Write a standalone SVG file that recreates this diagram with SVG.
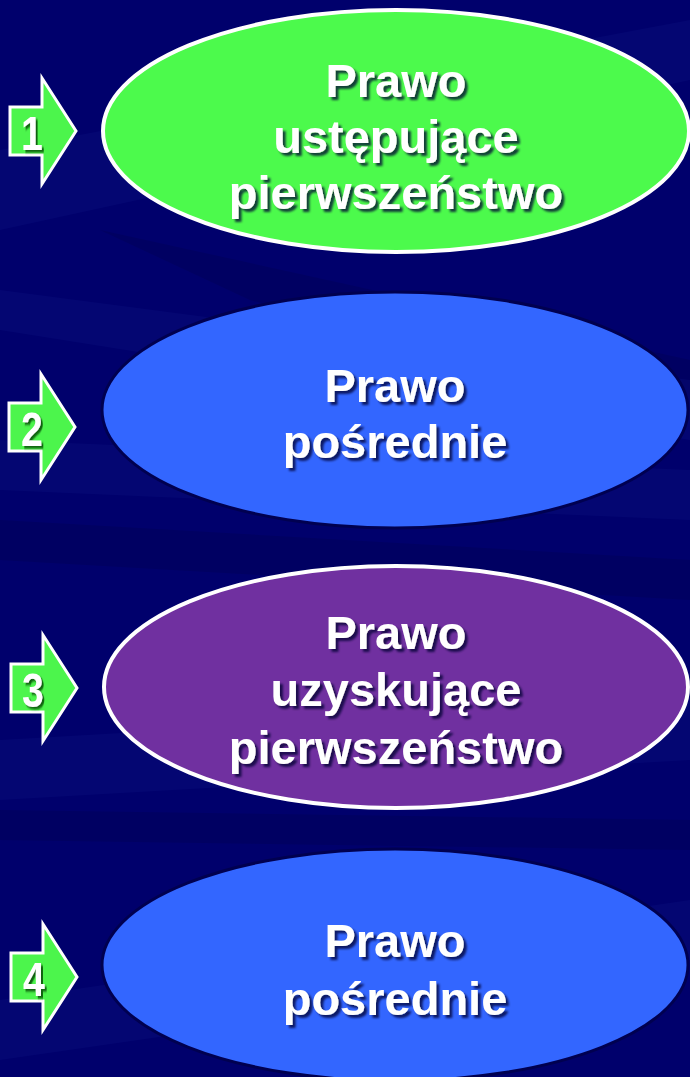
<svg xmlns="http://www.w3.org/2000/svg" width="690" height="1077" viewBox="0 0 690 1077">
<defs>
<style>
.lbl{font-family:"Liberation Sans",Arial,sans-serif;font-weight:bold;font-size:47px;fill:#ffffff;text-anchor:middle;filter:url(#sh)}
.num{font-family:"Liberation Sans",Arial,sans-serif;font-weight:bold;font-size:49px;fill:#ffffff;text-anchor:middle;filter:url(#sh2)}
.arr{fill:#4cf54c;stroke:#ffffff;stroke-width:3;stroke-linejoin:miter}
.stripe{fill:#1a2a9a;opacity:0.15}
.stripe2{fill:#000040;opacity:0.22}
</style>
<filter id="sh" x="-10%" y="-20%" width="130%" height="150%">
<feDropShadow dx="3" dy="3" stdDeviation="1" flood-color="#000030" flood-opacity="0.75"/>
</filter>
<filter id="sh2" x="-30%" y="-20%" width="170%" height="150%">
<feDropShadow dx="2.5" dy="2.5" stdDeviation="0.8" flood-color="#004000" flood-opacity="0.8"/>
</filter>
<symbol id="arrow" overflow="visible">
<polygon class="arr" points="0,-24 32,-24 32,-53 66,0 32,53 32,24 0,24"/>
</symbol>
</defs>
<rect width="690" height="1077" fill="#00006c"/>
<g id="background">
<polygon class="stripe" points="0,150 690,20 690,80 0,230"/>
<polygon class="stripe2" points="100,230 690,360 690,420 250,300"/>
<polygon class="stripe" points="0,290 690,380 690,440 0,330"/>
<polygon class="stripe" points="0,440 690,470 690,520 0,490"/>
<polygon class="stripe2" points="0,520 690,560 690,600 0,560"/>
<polygon class="stripe" points="0,740 690,700 690,760 0,800"/>
<polygon class="stripe2" points="0,810 690,820 690,850 0,840"/>
<polygon class="stripe" points="0,1000 690,900 690,960 0,1060"/>
</g>
<g id="node1">
<ellipse cx="396" cy="131" rx="293" ry="121" fill="#4cfa4c" stroke="#ffffff" stroke-width="4"/>
<text class="lbl" x="396" y="97">Prawo</text>
<text class="lbl" x="396" y="153">ustępujące</text>
<text class="lbl" x="396" y="209">pierwszeństwo</text>
</g>
<g id="node2">
<ellipse cx="395" cy="410" rx="293" ry="118" fill="#3366ff" stroke="#000050" stroke-width="3"/>
<text class="lbl" x="395" y="402">Prawo</text>
<text class="lbl" x="395" y="458">pośrednie</text>
</g>
<g id="node3">
<ellipse cx="396" cy="687" rx="292" ry="121" fill="#7030a0" stroke="#ffffff" stroke-width="4"/>
<text class="lbl" x="396" y="649">Prawo</text>
<text class="lbl" x="396" y="706">uzyskujące</text>
<text class="lbl" x="396" y="764">pierwszeństwo</text>
</g>
<g id="node4">
<ellipse cx="395" cy="965" rx="293" ry="116" fill="#3366ff" stroke="#000050" stroke-width="3"/>
<text class="lbl" x="395" y="957">Prawo</text>
<text class="lbl" x="395" y="1015">pośrednie</text>
</g>
<g id="connectors">
<g id="arrow1">
<use href="#arrow" x="10" y="131"/>
<text class="num" transform="translate(32,150) scale(0.8,1)">1</text>
</g>
<g id="arrow2">
<use href="#arrow" x="9" y="427"/>
<text class="num" transform="translate(32,446) scale(0.8,1)">2</text>
</g>
<g id="arrow3">
<use href="#arrow" x="11" y="688"/>
<text class="num" transform="translate(33,707) scale(0.8,1)">3</text>
</g>
<g id="arrow4">
<use href="#arrow" x="11" y="977"/>
<text class="num" transform="translate(34,996) scale(0.8,1)">4</text>
</g>
</g>
</svg>
